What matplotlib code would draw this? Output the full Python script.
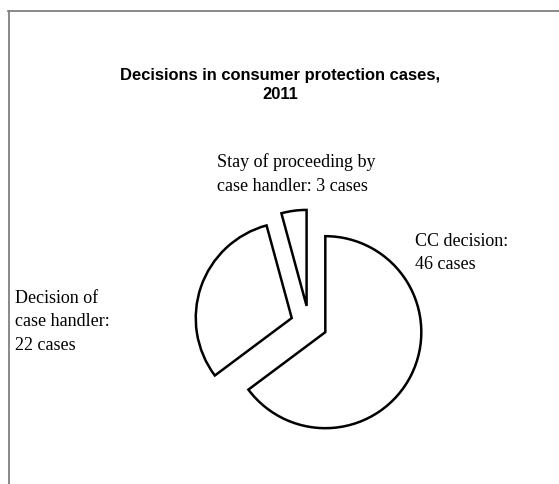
import matplotlib
matplotlib.use("Agg")
import matplotlib.pyplot as plt
from matplotlib.lines import Line2D

# Data
categories = ["CC decision", "Decision of case handler", "Stay of proceeding by case handler"]
values = [46, 22, 3]
label_texts = ["CC decision:\n46 cases", "Decision of\ncase handler:\n22 cases",
               "Stay of proceeding by\ncase handler: 3 cases"]
title = "Decisions in consumer protection cases,\n2011"

W, H = 559, 484
R = 96
fig = plt.figure(figsize=(W / 100, H / 100), dpi=100)
fig.patch.set_facecolor("white")

ax = fig.add_axes([0, 0, 1, 1])
wedges, _ = ax.pie(values, startangle=90, counterclock=False,
                   explode=[0.19 * R] * len(values), radius=R, center=(309, H - 324),
                   wedgeprops=dict(facecolor="white", edgecolor="black", linewidth=1.8),
                   frame=True)
ax.set_xlim(0, W)
ax.set_ylim(0, H)
ax.set_aspect("equal")
ax.axis("off")

def px(x, y):
    return x / W, 1 - y / H

fig.add_artist(Line2D([px(8.5, 11)[0], px(8.5, 484)[0]], [px(8.5, 11)[1], px(8.5, 484)[1]],
                      transform=fig.transFigure, color="#808080", lw=1.3))
fig.add_artist(Line2D([px(8, 11)[0], px(559, 11)[0]], [px(8, 11)[1], px(559, 11)[1]],
                      transform=fig.transFigure, color="#808080", lw=1.3))

fig.text(*px(280, 85), title, ha="center", va="center", fontsize=11.9,
         fontweight="bold", family="Liberation Sans", linespacing=1.34)

serif = dict(family="Liberation Serif", fontsize=13, va="center", ha="left")
fig.text(*px(415, 253), label_texts[0], linespacing=1.52, **serif)
fig.text(*px(15, 322), label_texts[1], linespacing=1.52, **serif)
fig.text(*px(217, 174), label_texts[2], linespacing=1.6, **serif)

fig.savefig("out.png", dpi=100)
